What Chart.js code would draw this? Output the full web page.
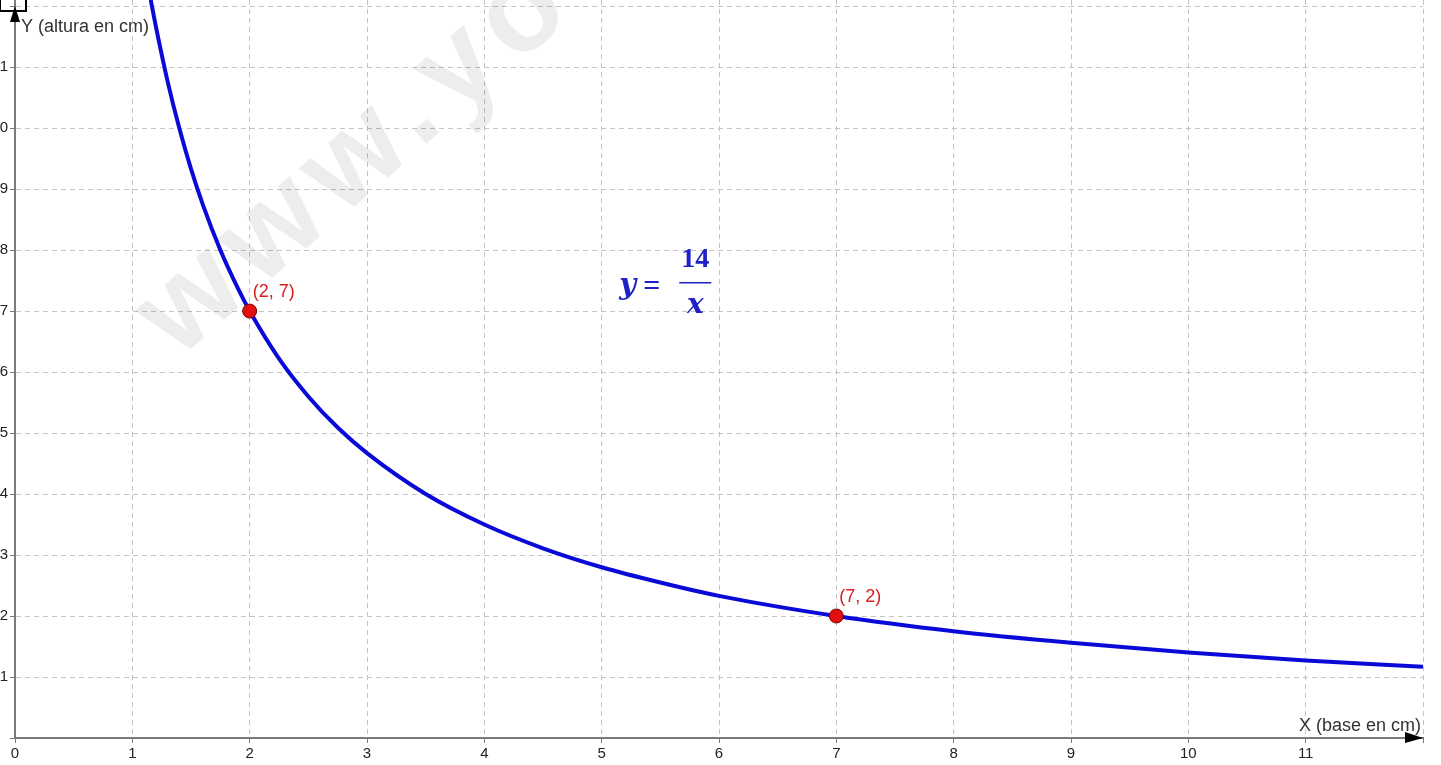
<!DOCTYPE html>
<html lang="es">
<head>
    <meta charset="UTF-8">
    <title>y = 14/x</title>
    <script src="https://cdn.jsdelivr.net/npm/chart.js"></script>
    <style>
        html, body {
            margin: 0;
            padding: 0;
            background: #fff;
            overflow: hidden;
        }
        #wrap {
            position: relative;
            width: 1441px;
            height: 765px;
            overflow: hidden;
        }
        canvas {
            position: absolute;
            left: -20px;
            top: 0;
        }
    </style>
</head>
<body>
<div id="wrap">
    <canvas id="hyperbola" width="1461" height="765"></canvas>
</div>

<script>
    // values
    const curveX = [1.157, 1.2, 1.3, 1.4, 1.5, 1.6, 1.75, 1.9, 2, 2.25, 2.5, 2.75, 3, 3.5, 4, 4.5, 5, 5.5, 6, 7, 8, 9, 10, 11, 12];
    const curveY = [12.1, 11.67, 10.77, 10, 9.33, 8.75, 8, 7.37, 7, 6.22, 5.6, 5.09, 4.67, 4, 3.5, 3.11, 2.8, 2.55, 2.33, 2, 1.75, 1.56, 1.4, 1.27, 1.17];
    const markX = [2, 7];
    const markY = [7, 2];
    const markLabels = ["(2, 7)", "(7, 2)"];
    const xTicks = [0, 1, 2, 3, 4, 5, 6, 7, 8, 9, 10, 11];
    const yTicks = [1, 2, 3, 4, 5, 6, 7, 8, 9, 10, 11];

    const curve = curveX.map((x, i) => ({ x: x, y: curveY[i] }));
    const marks = markX.map((x, i) => ({ x: x, y: markY[i] }));

    const AXIS = "#7a7a7a";
    const GRID = "#c4c4c4";
    const SANS = "'Liberation Sans', Arial, sans-serif";

    const extras = {
        id: "extras",
        beforeDatasetsDraw(chart) {
            const ctx = chart.ctx;
            // faint watermark
            ctx.save();
            ctx.translate(198, 360);
            ctx.rotate(-41 * Math.PI / 180);
            ctx.font = "bold 124px " + SANS;
            ctx.letterSpacing = "12px";
            ctx.fillStyle = "rgba(0,0,0,0.07)";
            ctx.textBaseline = "alphabetic";
            ctx.fillText("www.youtube.com", 0, 0);
            ctx.restore();
        },
        afterDraw(chart) {
            const ctx = chart.ctx;
            const xs = chart.scales.x, ys = chart.scales.y;
            const area = chart.chartArea;
            ctx.save();

            // arrow heads on axes
            ctx.fillStyle = "#000";
            ctx.beginPath();
            ctx.moveTo(area.left, 6);
            ctx.lineTo(area.left - 5, 22);
            ctx.lineTo(area.left + 5, 22);
            ctx.closePath();
            ctx.fill();
            ctx.beginPath();
            ctx.moveTo(area.right, area.bottom);
            ctx.lineTo(area.right - 18, area.bottom - 6);
            ctx.lineTo(area.right - 18, area.bottom + 5);
            ctx.closePath();
            ctx.fill();

            // axis captions
            ctx.font = "18px " + SANS;
            ctx.fillStyle = "#333";
            ctx.textBaseline = "middle";
            ctx.textAlign = "left";
            ctx.fillText("Y (altura en cm)", area.left + 6, 27);
            ctx.textAlign = "right";
            ctx.fillText("X (base en cm)", area.right - 2, area.bottom - 12);

            // small frame in the corner
            ctx.strokeStyle = "#000";
            ctx.lineWidth = 2;
            ctx.strokeRect(20, -1, 26, 12);

            // point labels
            ctx.font = "18px " + SANS;
            ctx.fillStyle = "#d42020";
            ctx.textAlign = "left";
            ctx.textBaseline = "alphabetic";
            marks.forEach((p, i) => {
                ctx.fillText(markLabels[i], xs.getPixelForValue(p.x) + 3, ys.getPixelForValue(p.y) - 14);
            });

            // equation
            const ex = xs.getPixelForValue(5.15);
            const ey = ys.getPixelForValue(7.4);
            ctx.fillStyle = "#2020c8";
            ctx.strokeStyle = "#2020c8";
            ctx.textBaseline = "middle";
            ctx.textAlign = "left";
            ctx.font = "italic bold 29px 'DejaVu Serif', 'Liberation Serif', serif";
            ctx.fillText("y", ex, ey);
            ctx.font = "bold 30px 'Liberation Serif', serif";
            ctx.fillText("=", ex + 24, ey + 1);
            ctx.textAlign = "center";
            ctx.font = "bold 28px 'Liberation Serif', serif";
            ctx.fillText("14", ex + 76, ey - 27);
            ctx.font = "italic bold 28px 'DejaVu Serif', 'Liberation Serif', serif";
            ctx.fillText("x", ex + 76, ey + 19);
            ctx.lineWidth = 1.5;
            ctx.beginPath();
            ctx.moveTo(ex + 60, ey - 4);
            ctx.lineTo(ex + 92, ey - 4);
            ctx.stroke();

            ctx.restore();
        }
    };

    const ctx = document.getElementById("hyperbola").getContext("2d");
    new Chart(ctx, {
        type: "scatter",
        data: {
            datasets: [
                {
                    label: "y = 14/x",
                    data: curve,
                    showLine: true,
                    borderColor: "#0a0ad8",
                    borderWidth: 4,
                    pointRadius: 0,
                    cubicInterpolationMode: "monotone",
                    fill: false,
                    order: 2
                },
                {
                    label: "puntos",
                    data: marks,
                    showLine: false,
                    pointRadius: 7,
                    pointBackgroundColor: "#e31010",
                    pointBorderColor: "#7a0000",
                    pointBorderWidth: 1,
                    order: 1
                }
            ]
        },
        options: {
            responsive: false,
            animation: false,
            layout: { autoPadding: false, padding: { left: 0, right: 18, top: 0, bottom: 0 } },
            plugins: {
                legend: { display: false },
                tooltip: { enabled: false }
            },
            scales: {
                x: {
                    type: "linear",
                    min: 0,
                    max: 12,
                    afterFit(scale) {
                        scale.height = 27;
                        scale.paddingLeft = 0;
                        scale.paddingRight = 0;
                    },
                    afterBuildTicks(scale) { scale.ticks = [...xTicks, 12].map(v => ({ value: v })); },
                    ticks: {
                        color: "#222",
                        font: { family: SANS, size: 15 },
                        padding: 2,
                        maxRotation: 0,
                        autoSkip: false,
                        callback: v => xTicks.includes(v) ? String(v) : ""
                    },
                    grid: {
                        color: GRID,
                        tickColor: AXIS,
                        tickLength: 5,
                        lineWidth: 1
                    },
                    border: { color: AXIS, width: 2, dash: [5, 4] }
                },
                y: {
                    type: "linear",
                    min: 0,
                    max: 12.1,
                    afterFit(scale) {
                        scale.width = 35;
                        scale.paddingTop = 0;
                        scale.paddingBottom = 0;
                    },
                    afterBuildTicks(scale) { scale.ticks = [0, ...yTicks, 12].map(v => ({ value: v })); },
                    ticks: {
                        color: "#222",
                        font: { family: SANS, size: 15 },
                        padding: 2,
                        autoSkip: false,
                        callback: v => yTicks.includes(v) ? String(v) : ""
                    },
                    grid: {
                        color: GRID,
                        tickColor: AXIS,
                        tickLength: 5,
                        lineWidth: 1
                    },
                    border: { color: AXIS, width: 2, dash: [5, 4] }
                }
            }
        },
        plugins: [extras]
    });
</script>
</body>
</html>
